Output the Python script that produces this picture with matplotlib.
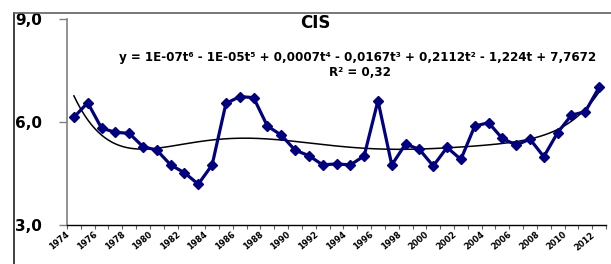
import numpy as np
import matplotlib
matplotlib.use("Agg")
import matplotlib.pyplot as plt
from matplotlib.lines import Line2D

plt.rcParams['font.family'] = ['DejaVu Sans']

years = list(range(1974, 2013))
cis = [6.14, 6.56, 5.82, 5.70, 5.67, 5.28, 5.18, 4.75, 4.52, 4.19,
       4.75, 6.54, 6.74, 6.71, 5.88, 5.62, 5.18, 5.02, 4.75, 4.78,
       4.75, 5.01, 6.62, 4.75, 5.36, 5.20, 4.72, 5.26, 4.91, 5.88,
       5.98, 5.52, 5.33, 5.50, 4.99, 5.69, 6.20, 6.30, 7.01]
yticks = [3.0, 6.0, 9.0]
ytick_labels = ["3,0", "6,0", "9,0"]
title = "CIS"
equation = "y = 1E-07t\u2076 - 1E-05t\u2075 + 0,0007t\u2074 - 0,0167t\u00b3 + 0,2112t\u00b2 - 1,224t + 7,7672"
r2_text = "R\u00b2 = 0,32"

W, H = 611, 264
fig = plt.figure(figsize=(W / 100, H / 100), dpi=100)
ax = fig.add_axes([67 / W, 1 - 225 / H, (606 - 67) / W, (225 - 19) / H])

x = np.arange(len(years))
t = x + 1
coef = np.polyfit(t, cis, 6)
tt = np.linspace(t[0], t[-1], 300)
ax.plot(tt - 1, np.polyval(coef, tt), color='black', lw=1.1, zorder=2)
ax.plot(x, cis, color='#000080', lw=2.3, marker='D', markersize=5, zorder=3)

ax.set_xlim(-0.5, len(years) - 0.5)
ax.set_ylim(3, 9)
ax.set_yticks(yticks)
ax.set_yticklabels(ytick_labels, fontsize=11, fontweight='bold')
ax.tick_params(axis='y', length=6, width=1, color='#808080', direction='out', pad=12)

ax.set_xticks(np.arange(-0.5, len(years), 1.0))
ax.set_xticklabels([])
ax.tick_params(axis='x', length=3, width=0.8, color='#606060', direction='out')
for i, yr in enumerate(years):
    if i % 2 == 0:
        ax.text(i - 0.6, 2.85, str(yr), rotation=40, ha='right', va='top',
                rotation_mode='anchor', fontsize=6, fontweight='bold')

for s in ['top', 'right']:
    ax.spines[s].set_visible(False)
ax.spines['left'].set_color('#808080')
ax.spines['left'].set_linewidth(1.2)
ax.spines['bottom'].set_color('black')
ax.spines['bottom'].set_linewidth(1.0)

fig.text(315 / W, 1 - 23 / H, title, ha='center', va='center', fontsize=12, fontweight='bold')
fig.text(358 / W, 1 - 58 / H, equation, ha='center', va='center', fontsize=8.6, fontweight='bold')
fig.text(360 / W, 1 - 72 / H, r2_text, ha='center', va='center', fontsize=8.6, fontweight='bold')

# outer frame (left and top edges)
fig.add_artist(Line2D([14 / W, 14 / W], [0, 1 - 13 / H], color='#202020', lw=1.2))
fig.add_artist(Line2D([14 / W, 1], [1 - 13 / H, 1 - 13 / H], color='#606060', lw=1.2))

fig.savefig("out.png", dpi=100)
